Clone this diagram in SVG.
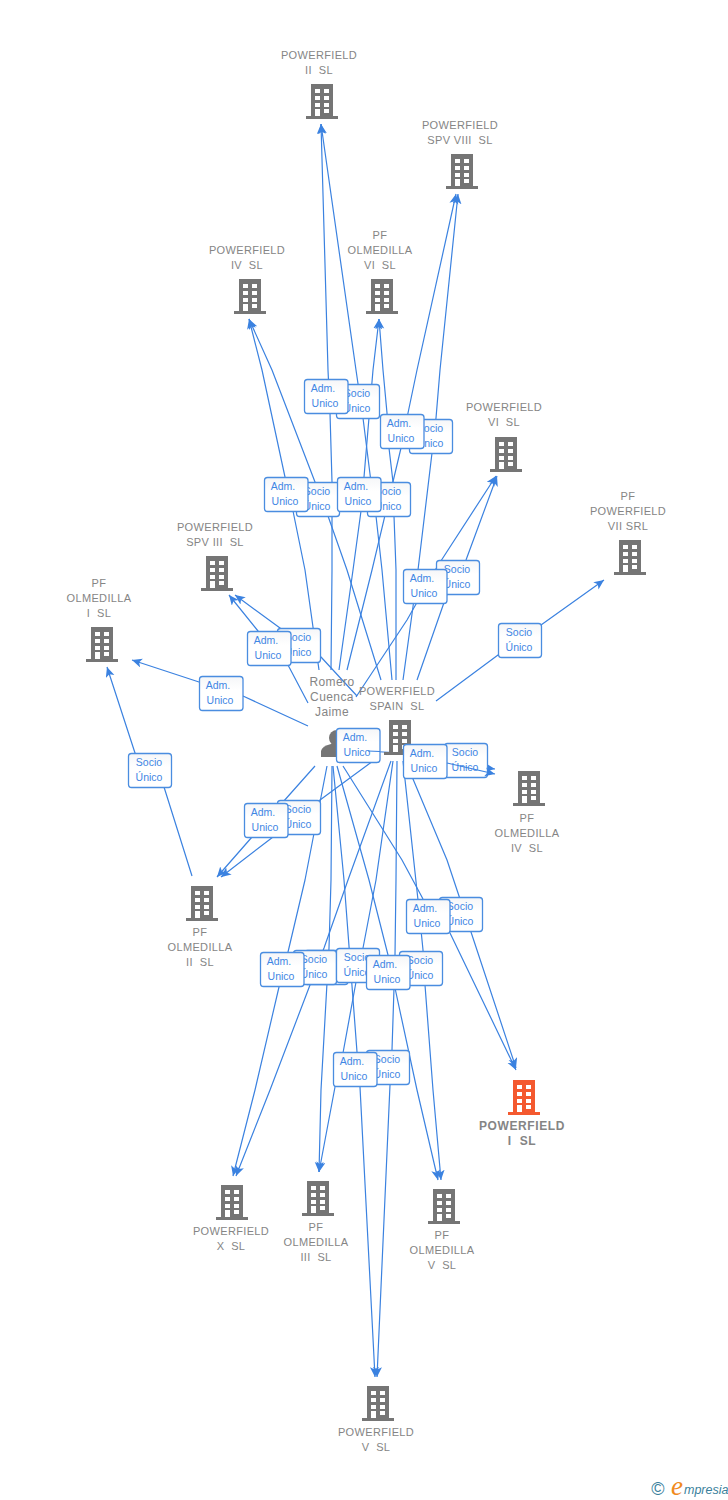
<svg xmlns="http://www.w3.org/2000/svg" width="728" height="1500" viewBox="0 0 728 1500">
<style>
.t{font-family:"Liberation Sans",Arial,sans-serif;font-size:11px;letter-spacing:.35px;fill:#858585;text-anchor:middle;white-space:pre}
.p{font-size:12px;letter-spacing:.4px}
.b{font-weight:bold;font-size:12px;letter-spacing:.6px}
.i{fill:#757575}
.o{fill:#f4592f}
.c{fill:none;stroke:#3b82e0;stroke-width:1.2;stroke-linejoin:round}
.a{marker-end:url(#h)}
.l rect{fill:url(#g);stroke:#4a8de0;stroke-width:1.3}
.l text{font-family:"Liberation Sans",Arial,sans-serif;font-size:10.5px;fill:#3f86e4;text-anchor:middle}
</style>
<defs>
<linearGradient id="g" x1="0" y1="0" x2="0" y2="1"><stop offset="0" stop-color="#f5f6f8"/><stop offset=".4" stop-color="#fff"/></linearGradient>
<marker id="h" markerUnits="userSpaceOnUse" markerWidth="11" markerHeight="10" refX="10" refY="4.5" orient="auto"><path d="M10,4.5 L0,0 L2.5,4.5 L0,9 Z" fill="#3b82e0"/></marker>
<path id="bd" fill-rule="evenodd" d="M-11,-35H11V-3H16V0H-16V-3H-11ZM-7,-30V-26H-2V-30ZM2,-30V-26H7V-30ZM-7,-23V-19H-2V-23ZM2,-23V-19H7V-23ZM-7,-16V-12H-2V-16ZM2,-16V-12H7V-16ZM-7,-10V-3H-2V-10ZM2,-10V-6H7V-10Z"/>
<g id="adm" class="l"><rect x=".5" y=".5" width="43.5" height="34" rx="3"/><text x="19" y="13">Adm.</text><text x="21" y="28">Unico</text></g>
<g id="soc" class="l"><rect x=".5" y=".5" width="43" height="34" rx="3"/><text x="21" y="13">Socio</text><text x="21" y="28">Único</text></g>
</defs>
<g id="connectors">
<polyline class="c a" points="331,670 332,570 332,482 330,413 328,370 321,124"/>
<polyline class="c a" points="392,680 382,570 376,516 371,482 363,418 356,370 321,124"/>
<polyline class="c a" points="319,670 305,570 293,511 285,477 262,370 249,319"/>
<polyline class="c a" points="381,680 347,570 328,516 315,482 272,370 249,319"/>
<polyline class="c a" points="339,670 353,570 361,511 364,477 373,370 379,319"/>
<polyline class="c a" points="396,680 396,570 394,516 393,482 389,448 387,413 383,370 379,319"/>
<polyline class="c a" points="347,670 372,570 401,448 408,413 417,370 456,194"/>
<polyline class="c a" points="403,680 418,570 432,453 436,418 440,370 458,194"/>
<polyline class="c a" points="356,697 407,620 437,567 496,476"/>
<polyline class="c a" points="417,680 447,594 466,560 497,476"/>
<polyline class="c a" points="436,701 498,655 541,625 604,580"/>
<polyline class="c a" points="308,703 288,665 258,631 229,595"/>
<polyline class="c a" points="357,696 321,657 280,628 235,595"/>
<polyline class="c a" points="308,726 243,696 199,682 132,660"/>
<polyline class="c a" points="192,876 164,787 135,753 107,667"/>
<polyline class="c a" points="315,766 283,802 252,837 217,877"/>
<polyline class="c a" points="373,761 320,800 273,837 221,877"/>
<polyline class="c" points="344,750 403,753 447,763"/>
<polyline class="c a" points="414,757 466,765 495,769"/>
<polyline class="c a" points="343,766 402,860 423,899 450,933 516,1070"/>
<polyline class="c a" points="405,760 447,860 471,932 516,1068"/>
<polyline class="c a" points="327,766 305,880 288,952 279,987 255,1090 233,1176"/>
<polyline class="c a" points="391,761 348,880 324,948 310,985 270,1090 236,1176"/>
<polyline class="c a" points="332,766 331,880 329,948 327,983 321,1090 319,1172"/>
<polyline class="c a" points="393,761 376,880 363,948 356,982 343,1053 335,1087 319,1172"/>
<polyline class="c a" points="337,766 369,880 388,955 395,988 417,1090 438,1180"/>
<polyline class="c a" points="403,761 418,900 423,950 425,985 433,1090 441,1180"/>
<polyline class="c a" points="333,766 344,880 357,1052 360,1087 375,1377"/>
<polyline class="c a" points="397,761 396,880 395,955 394,988 392,1050 390,1085 377,1377"/>
</g>
<g id="n-ii"><use href="#bd" class="i" x="322" y="119"/><text class="t" x="319" y="59">POWERFIELD</text><text class="t" x="319" y="74">II  SL</text></g>
<g id="n-viii"><use href="#bd" class="i" x="462" y="189"/><text class="t" x="460" y="129">POWERFIELD</text><text class="t" x="460" y="144">SPV VIII  SL</text></g>
<g id="n-iv"><use href="#bd" class="i" x="250" y="314"/><text class="t" x="247" y="254">POWERFIELD</text><text class="t" x="247" y="269">IV  SL</text></g>
<g id="n-olm-vi"><use href="#bd" class="i" x="382" y="314"/><text class="t" x="380" y="239">PF</text><text class="t" x="380" y="254">OLMEDILLA</text><text class="t" x="380" y="269">VI  SL</text></g>
<g id="n-vi"><use href="#bd" class="i" x="506" y="472"/><text class="t" x="504" y="411">POWERFIELD</text><text class="t" x="504" y="426">VI  SL</text></g>
<g id="n-vii"><use href="#bd" class="i" x="630" y="575"/><text class="t" x="628" y="500">PF</text><text class="t" x="628" y="515">POWERFIELD</text><text class="t" x="628" y="530">VII SRL</text></g>
<g id="n-spv-iii"><use href="#bd" class="i" x="217" y="591"/><text class="t" x="215" y="531">POWERFIELD</text><text class="t" x="215" y="546">SPV III  SL</text></g>
<g id="n-olm-i"><use href="#bd" class="i" x="102" y="662"/><text class="t" x="99" y="587">PF</text><text class="t" x="99" y="602">OLMEDILLA</text><text class="t" x="99" y="617">I  SL</text></g>
<g id="n-spain"><use href="#bd" class="i" x="400" y="755"/><text class="t" x="397" y="695">POWERFIELD</text><text class="t" x="397" y="710">SPAIN  SL</text></g>
<g id="n-romero"><circle class="i" cx="337" cy="738" r="8"/><path class="i" d="M321,757V751Q322,746 331,744H345Q352,746 353,751V757Z"/><text class="t p" x="332" y="686">Romero</text><text class="t p" x="332" y="701">Cuenca</text><text class="t p" x="332" y="716">Jaime</text></g>
<g id="n-olm-iv"><use href="#bd" class="i" x="529" y="806"/><text class="t" x="527" y="822">PF</text><text class="t" x="527" y="837">OLMEDILLA</text><text class="t" x="527" y="852">IV  SL</text></g>
<g id="n-olm-ii"><use href="#bd" class="i" x="202" y="921"/><text class="t" x="200" y="936">PF</text><text class="t" x="200" y="951">OLMEDILLA</text><text class="t" x="200" y="966">II  SL</text></g>
<g id="n-i"><use href="#bd" class="o" x="524" y="1115"/><text class="t b" x="522" y="1130">POWERFIELD</text><text class="t b" x="522" y="1145">I  SL</text></g>
<g id="n-x"><use href="#bd" class="i" x="232" y="1220"/><text class="t" x="231" y="1235">POWERFIELD</text><text class="t" x="231" y="1250">X  SL</text></g>
<g id="n-olm-iii"><use href="#bd" class="i" x="318" y="1216"/><text class="t" x="316" y="1231">PF</text><text class="t" x="316" y="1246">OLMEDILLA</text><text class="t" x="316" y="1261">III  SL</text></g>
<g id="n-olm-v"><use href="#bd" class="i" x="444" y="1224"/><text class="t" x="442" y="1239">PF</text><text class="t" x="442" y="1254">OLMEDILLA</text><text class="t" x="442" y="1269">V  SL</text></g>
<g id="n-v"><use href="#bd" class="i" x="378" y="1421"/><text class="t" x="376" y="1436">POWERFIELD</text><text class="t" x="376" y="1451">V  SL</text></g>
<g id="labels">
<use href="#soc" x="336" y="384"/><use href="#adm" x="304" y="379"/>
<use href="#soc" x="409" y="419"/><use href="#adm" x="380" y="414"/>
<use href="#soc" x="296" y="482"/><use href="#adm" x="264" y="477"/>
<use href="#soc" x="367" y="482"/><use href="#adm" x="337" y="477"/>
<use href="#soc" x="436" y="560"/><use href="#adm" x="403" y="569"/>
<use href="#soc" x="498" y="623"/>
<use href="#soc" x="277" y="628"/><use href="#adm" x="247" y="631"/>
<use href="#adm" x="199" y="676"/>
<use href="#adm" x="336" y="728"/>
<use href="#soc" x="444" y="743"/><use href="#adm" x="403" y="744"/>
<use href="#soc" x="128" y="753"/>
<use href="#soc" x="277" y="800"/><use href="#adm" x="244" y="803"/>
<use href="#soc" x="439" y="897"/><use href="#adm" x="406" y="899"/>
<use href="#adm" x="304" y="950"/><use href="#soc" x="293" y="950"/><use href="#adm" x="260" y="952"/>
<use href="#soc" x="399" y="951"/><use href="#soc" x="336" y="948"/><use href="#adm" x="366" y="955"/>
<use href="#soc" x="366" y="1050"/><use href="#adm" x="333" y="1052"/>
</g>
<g id="connectors-top">
<polyline class="c" points="368,751 380,751.500"/>
<polyline class="c a" points="447,763 495,774"/>
</g>
<g id="logo">
<text x="658" y="1495" font-family="Liberation Sans,Arial,sans-serif" font-size="18" fill="#3a7f9c" text-anchor="middle">©</text>
<text x="671" y="1495" font-family="Liberation Serif,serif" font-style="italic" font-size="27" fill="#f08a1d">e</text>
<text x="684" y="1494" font-family="Liberation Sans,Arial,sans-serif" font-style="italic" font-size="12.500" fill="#3a7f9c">mpresia</text>
</g>
</svg>
